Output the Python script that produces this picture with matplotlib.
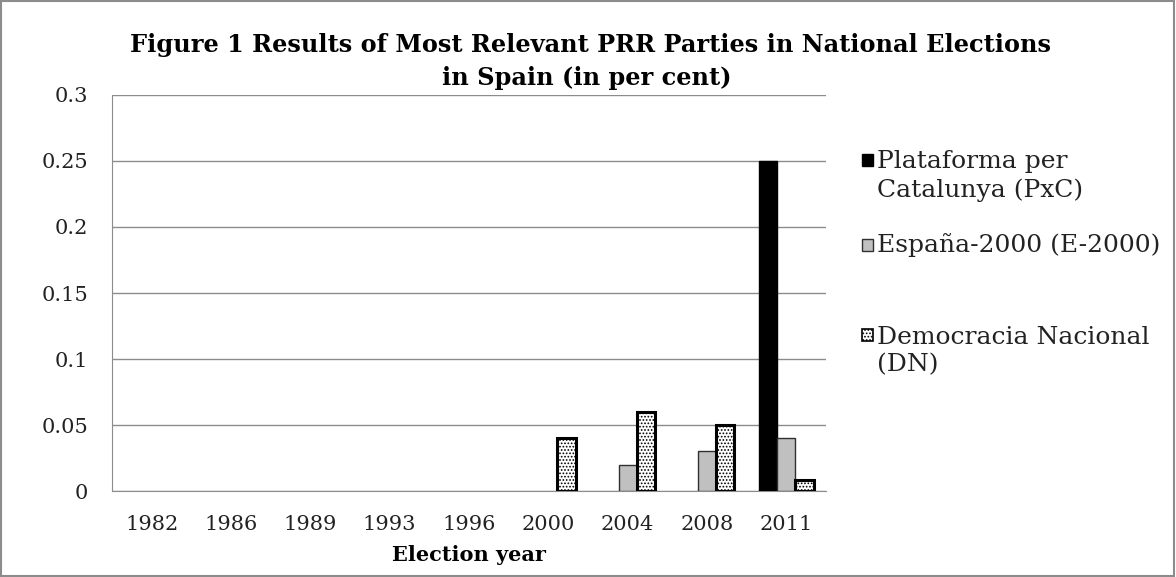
import numpy as np
import matplotlib.pyplot as plt
from matplotlib.patches import Rectangle

years = ['1982', '1986', '1989', '1993', '1996', '2000', '2004', '2008', '2011']
pxc = [0, 0, 0, 0, 0, 0, 0, 0, 0.25]
e2000 = [0, 0, 0, 0, 0, 0, 0.02, 0.03, 0.04]
dn = [0, 0, 0, 0, 0, 0.04, 0.06, 0.05, 0.008]

series_names = ['Plataforma per\nCatalunya (PxC)', 'España-2000 (E-2000)',
                'Democracia Nacional\n(DN)']

plt.rcParams['font.family'] = ['DejaVu Serif']
plt.rcParams['hatch.linewidth'] = 0.8

fig = plt.figure(figsize=(11.76, 5.77), dpi=100)
ax = fig.add_axes([0.0952, 0.149, 0.6072, 0.6864])

x = np.arange(len(years))
w = 0.23


def draw(vals, offset, **kw):
    vals = np.array(vals)
    m = vals > 0
    ax.bar(x[m] + offset, vals[m], w, zorder=3, **kw)


styles = [dict(color='black', edgecolor='black', linewidth=1),
          dict(color='#c0c0c0', edgecolor='#303030', linewidth=1),
          dict(color='white', edgecolor='black', hatch='.....', linewidth=2.2)]

draw(pxc, -w, **styles[0])
draw(e2000, 0, **styles[1])
draw(dn, w, **styles[2])

ax.set_xlim(-0.5, len(years) - 0.5)
ax.set_ylim(0, 0.3)
ax.set_yticks([0, 0.05, 0.1, 0.15, 0.2, 0.25, 0.3])
ax.set_yticklabels(['0', '0.05', '0.1', '0.15', '0.2', '0.25', '0.3'])
ax.set_xticks(x)
ax.set_xticklabels(years)
ax.yaxis.grid(True, color='#8c8c8c', linewidth=1)
ax.set_axisbelow(True)
ax.tick_params(axis='both', length=0, labelsize=15, colors='#222222')
ax.tick_params(axis='x', pad=17)
ax.tick_params(axis='y', pad=17)
for side in ['top', 'right']:
    ax.spines[side].set_visible(False)
ax.spines['left'].set_color('#8c8c8c')
ax.spines['bottom'].set_color('#8c8c8c')

ax.set_xlabel('Election year', fontsize=15, fontweight='bold', labelpad=8)

fig.text(0.502, 0.922, 'Figure 1 Results of Most Relevant PRR Parties in National Elections',
         ha='center', va='center', fontsize=17.3, fontweight='bold')
fig.text(0.499, 0.865, 'in Spain (in per cent)', ha='center', va='center',
         fontsize=17.3, fontweight='bold')

# legend, drawn by hand so each entry sits where the reference puts it
H = 577.0
key_y = [160, 245, 335]
text_y = [176, 245, 351]
for i in range(3):
    st = dict(styles[i])
    st.pop('color')
    fc = styles[i]['color']
    lw = 1.2 if i == 2 else 1
    st['linewidth'] = lw
    fig.patches.append(Rectangle((862 / 1176, 1 - (key_y[i] + 6) / H), 11 / 1176, 12 / H,
                                 transform=fig.transFigure, facecolor=fc, **st))
    fig.text(877 / 1176, 1 - text_y[i] / H, series_names[i], ha='left', va='center',
             fontsize=18, color='#222222', linespacing=1.25)

fig.patches.append(Rectangle((0.001, 0.002), 0.997, 0.996, transform=fig.transFigure,
                             fill=False, edgecolor='#8c8c8c', linewidth=1.5))

fig.savefig('out.png', dpi=100)
